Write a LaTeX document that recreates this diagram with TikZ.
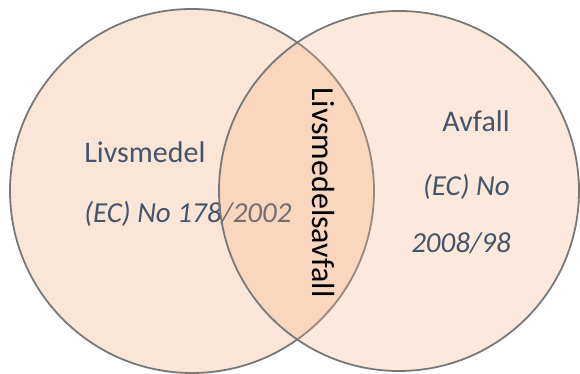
\documentclass[tikz,border=0pt]{standalone}
\usepackage{fontspec}
\setmainfont{Carlito}
\usepackage{xcolor}
\usepackage{tikz}
\usetikzlibrary{positioning}
\definecolor{leftfill}{RGB}{251,229,214}
\definecolor{rightfill}{RGB}{244,177,131}
\definecolor{rim}{RGB}{120,120,120}
\definecolor{txt}{RGB}{68,84,106}

\begin{document}
\begin{tikzpicture}[x=1pt,y=-1pt,semithick]
						\tikzstyle{set}=[draw=rim, line width=1.8pt, circle, inner sep=0pt]
						\tikzstyle{lbl}=[txt, inner sep=0pt, font=\fontsize{30}{36}\selectfont]
						\tikzstyle{reg}=[lbl, font=\fontsize{29}{35}\selectfont\itshape]
						\useasboundingbox (0,0) rectangle (580,374);

						\node[set, fill=leftfill, minimum size=364pt] 	(L) at (192,191)	{};
						\node[lbl, anchor=base west] 		(Lname) at (84,162)            {Livsmedel};
						\node[reg, anchor=base west] 		(Lreg) at (84,222)            {(EC) No 178/2002};

						\node[set, fill=rightfill, fill opacity=.28, minimum size=360pt] 	(A) at (399,191)	{};
						\node[lbl, anchor=base east] 		(Aname) at (510,132)            {Avfall};
						\node[reg, anchor=base east] 		(Areg) at (510,195)            {(EC) No};
						\node[reg, anchor=base east] 		(Ayear) at (511,252)            {2008/98};

						\node[lbl, black, font=\fontsize{32}{38}\selectfont, rotate=-90, anchor=base west] 	(LA) at (312,87)            {Livsmedelsavfall};

				\end{tikzpicture}
\end{document}
